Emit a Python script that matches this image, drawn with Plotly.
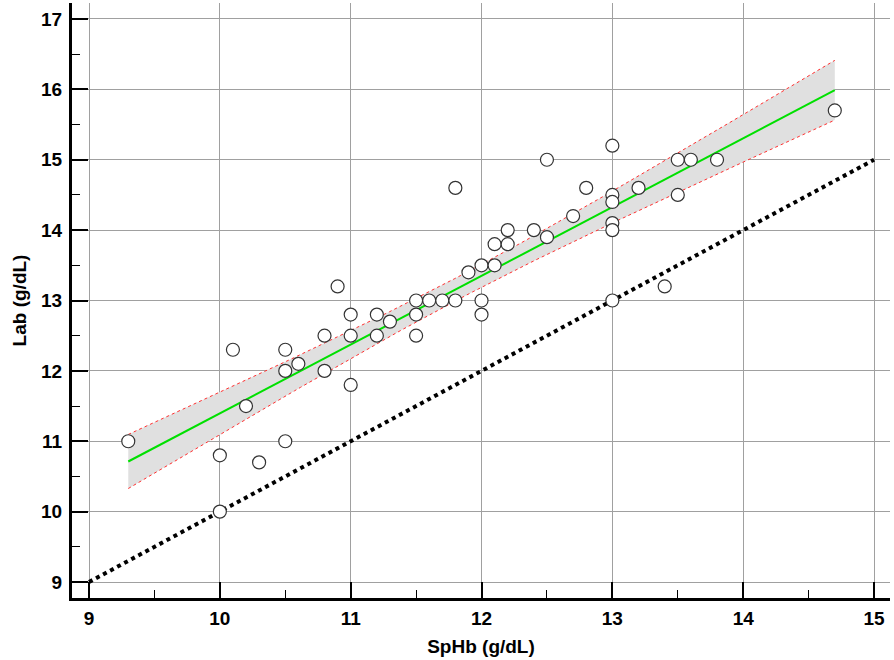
import numpy as np
import plotly.graph_objects as go

# SpHb (x) and Lab (y) values, g/dL
sphb = [9.3, 10.0, 10.0, 10.1, 10.2, 10.3, 10.5, 10.5, 10.5, 10.6,
        10.8, 10.8, 10.9, 11.0, 11.0, 11.0, 11.2, 11.2, 11.3, 11.5,
        11.5, 11.5, 11.6, 11.7, 11.8, 11.8, 11.9, 12.0, 12.0, 12.0,
        12.1, 12.1, 12.2, 12.2, 12.4, 12.5, 12.5, 12.7, 12.8, 13.0,
        13.0, 13.0, 13.0, 13.0, 13.0, 13.2, 13.4, 13.5, 13.5, 13.6,
        13.8, 14.7]
lab = [11.0, 10.8, 10.0, 12.3, 11.5, 10.7, 12.3, 12.0, 11.0, 12.1,
       12.5, 12.0, 13.2, 12.8, 12.5, 11.8, 12.8, 12.5, 12.7, 13.0,
       12.8, 12.5, 13.0, 13.0, 14.6, 13.0, 13.4, 13.5, 13.0, 12.8,
       13.8, 13.5, 14.0, 13.8, 14.0, 15.0, 13.9, 14.2, 14.6, 15.2,
       14.5, 14.4, 14.1, 14.0, 13.0, 14.6, 13.2, 15.0, 14.5, 15.0,
       15.0, 15.7]

x_ticks = [9, 10, 11, 12, 13, 14, 15]
y_ticks = [9, 10, 11, 12, 13, 14, 15, 16, 17]
identity = [9, 15]
t_crit = 2.009  # 95%, df = 50

x = np.array(sphb)
y = np.array(lab)
n = len(x)
slope, intercept = np.polyfit(x, y, 1)
resid = y - (slope * x + intercept)
s = np.sqrt(np.sum(resid ** 2) / (n - 2))
sxx = np.sum((x - x.mean()) ** 2)
xf = np.linspace(x.min(), x.max(), 120)
yf = slope * xf + intercept
half = t_crit * s * np.sqrt(1.0 / n + (xf - x.mean()) ** 2 / sxx)
lo = yf - half
hi = yf + half

fig = go.Figure()
fig.add_trace(go.Scatter(x=xf, y=lo, mode="lines", line=dict(width=0),
                         showlegend=False, hoverinfo="skip"))
fig.add_trace(go.Scatter(x=xf, y=hi, mode="lines", line=dict(width=0),
                         fill="tonexty", fillcolor="#e0e0e0",
                         showlegend=False, hoverinfo="skip"))
fig.add_trace(go.Scatter(x=xf, y=lo, mode="lines",
                         line=dict(color="#ff3030", width=1, dash="dot"),
                         showlegend=False))
fig.add_trace(go.Scatter(x=xf, y=hi, mode="lines",
                         line=dict(color="#ff3030", width=1, dash="dot"),
                         showlegend=False))
fig.add_trace(go.Scatter(x=identity, y=identity, mode="lines",
                         line=dict(color="black", width=4, dash="dot"),
                         showlegend=False))
fig.add_trace(go.Scatter(x=xf, y=yf, mode="lines",
                         line=dict(color="#00e000", width=2),
                         showlegend=False))
fig.add_trace(go.Scatter(x=sphb, y=lab, mode="markers",
                         marker=dict(size=13, color="white",
                                     line=dict(color="#333333", width=1.2)),
                         showlegend=False))

font_ticks = dict(family="Liberation Sans", size=19, color="black", weight="bold")
font_title = dict(family="Liberation Sans", size=19, color="black", weight="bold")

fig.update_xaxes(range=[8.870, 15.122], tickvals=x_ticks, showgrid=True,
                 gridcolor="#a0a0a0", gridwidth=1, zeroline=False,
                 showline=True, linecolor="black", linewidth=3,
                 ticks="inside", ticklen=16, tickwidth=2, tickcolor="black",
                 minor=dict(dtick=0.5, ticks="inside", ticklen=8, tickwidth=1,
                            tickcolor="black", showgrid=False),
                 tickfont=font_ticks, ticklabelstandoff=1, automargin=False,
                 title=dict(text="SpHb (g/dL)", font=font_title, standoff=12))
fig.update_yaxes(range=[8.773, 17.227], tickvals=y_ticks, showgrid=True,
                 gridcolor="#a0a0a0", gridwidth=1, zeroline=False,
                 showline=True, linecolor="black", linewidth=3,
                 ticks="inside", ticklen=16, tickwidth=2, tickcolor="black",
                 minor=dict(dtick=0.5, ticks="inside", ticklen=8, tickwidth=1,
                            tickcolor="black", showgrid=False),
                 tickfont=font_ticks, ticklabelstandoff=3, automargin=False,
                 title=dict(text="Lab (g/dL)", font=font_title, standoff=10))

fig.update_layout(width=894, height=660, plot_bgcolor="white",
                  paper_bgcolor="white",
                  margin=dict(l=72, r=4, t=3, b=62))

fig.write_html("out.html", config={"displayModeBar": False},
               post_script="document.body.style.margin='0';"
                           "document.body.style.overflow='hidden';")
